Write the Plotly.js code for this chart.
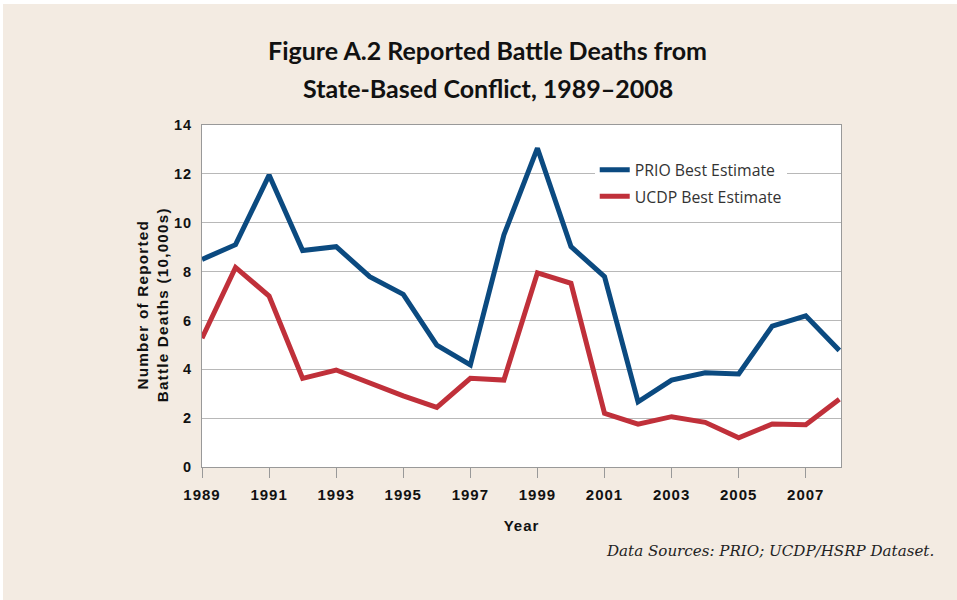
<!DOCTYPE html>
<html><head><meta charset="utf-8">
<script src="https://cdn.plot.ly/plotly-3.0.1.min.js"></script>
<style>
html,body{margin:0;padding:0;background:#ffffff;}
#chart{position:absolute;left:3px;top:4px;width:954px;height:596px;}
.xtick text,.ytick text,.g-xtitle text{letter-spacing:1px;}
.annotation[data-index="1"] text{letter-spacing:1.2px;}
</style></head>
<body><div id="chart"></div>
<script>
const years = [1989,1990,1991,1992,1993,1994,1995,1996,1997,1998,1999,2000,2001,2002,2003,2004,2005,2006,2007,2008];
const prio = [8.5,9.1,11.95,8.86,9.02,7.79,7.07,4.99,4.18,9.5,13.05,9.02,7.79,2.67,3.56,3.86,3.81,5.77,6.19,4.77];
const ucdp = [5.27,8.17,7.0,3.63,3.97,3.43,2.91,2.44,3.63,3.56,7.95,7.52,2.2,1.75,2.06,1.83,1.2,1.76,1.73,2.77];
const seriesNames = ["PRIO Best Estimate","UCDP Best Estimate"];
const xTickVals = [1989,1991,1993,1995,1997,1999,2001,2003,2005,2007];
const yTickVals = [0,2,4,6,8,10,12,14];

const beige = "#f3ebe2";
const traces = [
  {x: years, y: prio, name: seriesNames[0], type: "scatter", mode: "lines",
   line: {color: "#0b4a80", width: 5}, legendgroup: "a"},
  {x: years, y: ucdp, name: seriesNames[1], type: "scatter", mode: "lines",
   line: {color: "#c0303a", width: 5}, legendgroup: "b"}
];
const tickFont = {family: "Liberation Sans, Arial, sans-serif", size: 15, color: "#111", weight: "bold"};
const titleFont = {family: "Lato, sans-serif", size: 25, color: "#111", weight: "bold"};
const layout = {
  width: 954, height: 596,
  paper_bgcolor: beige, plot_bgcolor: "#ffffff",
  margin: {l: 199, r: 116, t: 121, b: 133},
  showlegend: true,
  title: {text: "Figure A.2 Reported Battle Deaths from", x: 0.5079, xanchor: "center",
          yref: "container", y: 0.921, yanchor: "middle", font: titleFont},
  xaxis: {range: [1989, 2008.05], tickvals: xTickVals, ticktext: xTickVals.map(String),
          ticks: "outside", ticklen: 10, tickwidth: 1, tickcolor: "#999",
          showgrid: false, zeroline: false, showline: true, linecolor: "#999", linewidth: 1, mirror: true,
          tickfont: tickFont, ticklabelstandoff: 4,
          title: {text: "Year", standoff: 18, font: tickFont}},
  yaxis: {range: [0, 14], tickvals: yTickVals, ticks: "", showgrid: true, gridcolor: "#b8b8b8", gridwidth: 1,
          zeroline: false, showline: true, linecolor: "#999", linewidth: 1, mirror: true,
          tickfont: {family: "Liberation Sans, Arial, sans-serif", size: 14.5, color: "#111", weight: "bold"},
          ticklabelstandoff: 6},
  legend: {x: 0.6146, xanchor: "left", y: 0.918, yanchor: "top", bgcolor: "#ffffff", borderwidth: 0,
           traceorder: "grouped", tracegroupgap: 3,
           font: {family: "Open Sans, sans-serif", size: 15.8, color: "#333"}},
  annotations: [
    {text: "State-Based Conflict, 1989–2008", xref: "paper", yref: "paper", x: 0.4468, y: 1.1081,
     xanchor: "center", yanchor: "middle", showarrow: false, font: titleFont},
    {text: "Number of Reported<br>Battle Deaths (10,000s)", xref: "paper", yref: "paper", x: -0.0767, y: 0.475,
     xanchor: "center", yanchor: "middle", textangle: -90, showarrow: false,
     font: {family: "Liberation Sans, Arial, sans-serif", size: 15.3, color: "#111", weight: "bold"}},
    {text: "Data Sources: PRIO; UCDP/HSRP Dataset.", xref: "paper", yref: "paper", x: 1.1487, y: -0.2457,
     xanchor: "right", yanchor: "middle", showarrow: false,
     font: {family: "DejaVu Serif, serif", size: 15.1, color: "#222", style: "italic"}}
  ]
};
Plotly.newPlot("chart", traces, layout, {displayModeBar: false, staticPlot: true});
</script></body></html>
